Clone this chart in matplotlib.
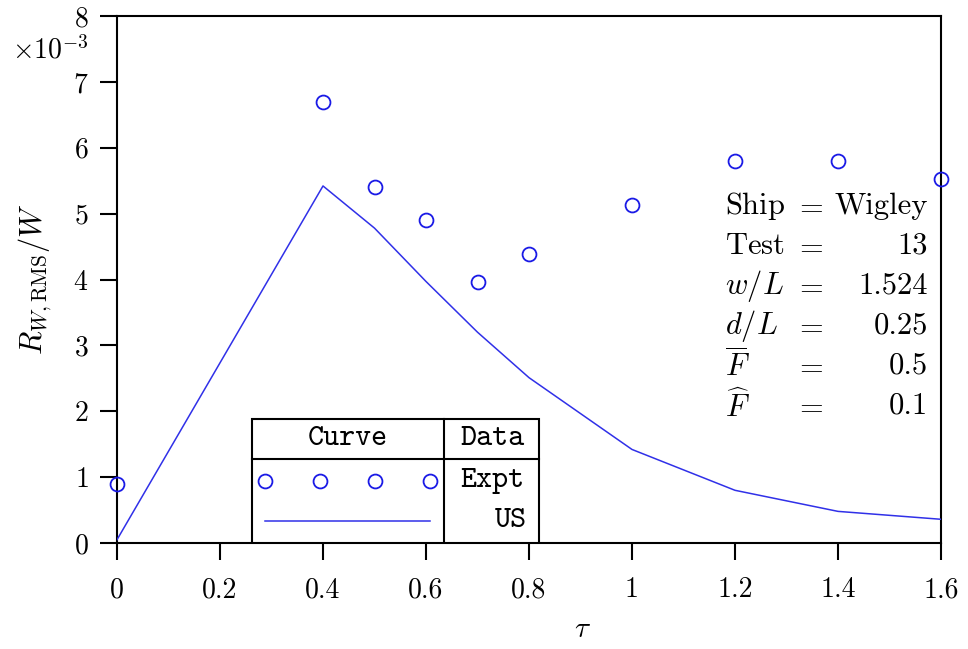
import matplotlib
matplotlib.use('Agg')
import matplotlib.pyplot as plt
from matplotlib import rcParams
from matplotlib.patches import Rectangle

rcParams['font.family'] = 'serif'
rcParams['font.serif'] = ['cmr10']
rcParams['mathtext.fontset'] = 'cm'
rcParams['axes.formatter.use_mathtext'] = True

# experimental points (units of 1e-3)
tau_expt = [0.0, 0.4, 0.5, 0.6, 0.7, 0.8, 1.0, 1.2, 1.4, 1.6]
r_expt = [0.9, 6.7, 5.41, 4.9, 3.96, 4.39, 5.13, 5.8, 5.8, 5.52]

# US curve (units of 1e-3)
tau_us = [0.0, 0.4, 0.5, 0.6, 0.7, 0.8, 1.0, 1.2, 1.4, 1.6]
r_us = [0.05, 5.42, 4.78, 3.97, 3.2, 2.51, 1.42, 0.8, 0.48, 0.36]

xticks = [0, 0.2, 0.4, 0.6, 0.8, 1.0, 1.2, 1.4, 1.6]
xticklabels = ['0', '0.2', '0.4', '0.6', '0.8', '1', '1.2', '1.4', '1.6']
yticks = [0, 1, 2, 3, 4, 5, 6, 7, 8]

info_names = [r'$\mathrm{Ship}$', r'$\mathrm{Test}$', r'$w/L$', r'$d/L$',
              r'$\overline{F}$', r'$\widehat{F}$']
info_values = ['Wigley', '13', '1.524', '0.25', '0.5', '0.1']

fig = plt.figure(figsize=(9.68, 6.49), dpi=100)
ax = fig.add_axes([117/968, 106/649, 824/968, 527/649])

ax.plot(tau_us, r_us, color='#3030e8', linewidth=1.1, zorder=3)
ax.plot(tau_expt, r_expt, linestyle='none', marker='o', markersize=10,
        markerfacecolor='none', markeredgecolor='#1a1ae6', markeredgewidth=1.3,
        clip_on=False, zorder=4)

ax.set_xlim(0, 1.6)
ax.set_ylim(0, 8)
ax.set_xticks(xticks)
ax.set_xticklabels(xticklabels)
ax.set_yticks(yticks)
ax.tick_params(direction='out', length=12.5, width=1.5, labelsize=20, pad=8)
ax.tick_params(axis='x', pad=12)
for s in ax.spines.values():
    s.set_linewidth(1.5)

def fx(px):
    return (px - 117) / 824

def fy(py):
    return (543 - py) / 527

ax.set_xlabel(r'$\tau$', fontsize=21)
ax.xaxis.set_label_coords(fx(582), fy(617))
ax.set_ylabel(r'$R_{W,\mathrm{RMS}}/W$', fontsize=22, labelpad=14)
fig.text(12/968, 1 - 50/649, r'$\times 10^{-3}$', fontsize=20, va='center', ha='left')

# parameter block
for i, (nm, val) in enumerate(zip(info_names, info_values)):
    py = 206 + i * 40
    ax.text(fx(725), fy(py), nm, transform=ax.transAxes, fontsize=22,
            ha='left', va='center')
    ax.text(fx(809), fy(py), r'$=$', transform=ax.transAxes, fontsize=22,
            ha='center', va='center')
    ax.text(fx(928), fy(py), val, transform=ax.transAxes, fontsize=22,
            ha='right', va='center')

# legend table
tt = dict(family='cmtt10', fontsize=22, transform=ax.transAxes, va='center')
ax.add_patch(Rectangle((fx(252), 0), fx(539) - fx(252), fy(419),
                       transform=ax.transAxes, fill=True, facecolor='white',
                       edgecolor='black', linewidth=1.5, zorder=5))
ax.plot([fx(444), fx(444)], [0, fy(419)], transform=ax.transAxes,
        color='black', linewidth=1.5, zorder=6)
ax.plot([fx(252), fx(539)], [fy(459), fy(459)], transform=ax.transAxes,
        color='black', linewidth=1.5, zorder=6)
ax.text(fx(348), fy(439), 'Curve', ha='center', zorder=7, **tt)
ax.text(fx(492), fy(439), 'Data', ha='center', zorder=7, **tt)
ax.text(fx(492), fy(481), 'Expt', ha='center', zorder=7, **tt)
ax.text(fx(527), fy(521), 'US', ha='right', zorder=7, **tt)
ax.plot([fx(265), fx(320), fx(375), fx(430)], [fy(481)] * 4,
        transform=ax.transAxes, linestyle='none', marker='o', markersize=10,
        markerfacecolor='none', markeredgecolor='#1a1ae6', markeredgewidth=1.3,
        zorder=7)
ax.plot([fx(265), fx(430)], [fy(521), fy(521)], transform=ax.transAxes,
        color='#3030e8', linewidth=1.1, zorder=7)

fig.savefig('out.png', dpi=100)
